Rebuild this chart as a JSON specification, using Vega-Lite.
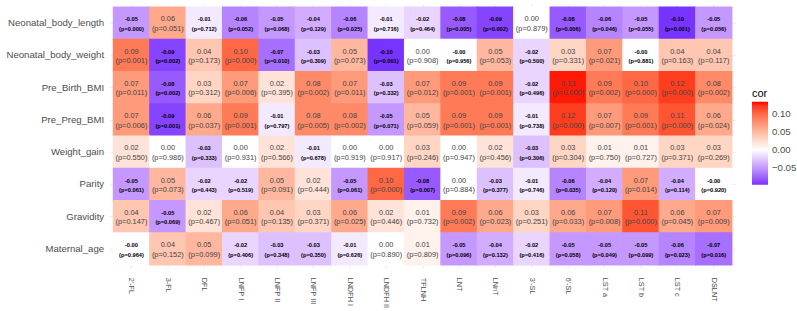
{
  "$schema": "https://vega.github.io/schema/vega-lite/v6.json",
  "width": 626,
  "height": 264.4,
  "autosize": {"type": "none"},
  "padding": {"left": 109.6, "top": 3.8, "right": 61.4, "bottom": 42.8},
  "background": "white",
  "config": {
    "font": "Liberation Sans",
    "view": {"stroke": null},
    "axis": {
      "domain": false,
      "ticks": false,
      "grid": true,
      "gridColor": "#ebebeb",
      "gridWidth": 1,
      "zindex": 0,
      "labelFont": "Liberation Sans",
      "labelFontSize": 9.6,
      "labelColor": "#4d4d4d",
      "title": null
    }
  },
  "datasets": {
    "cors": [
      {"trait": "Neonatal_body_length", "hmo": "2'-FL", "r": -0.05, "p": 0.000},
      {"trait": "Neonatal_body_length", "hmo": "3-FL", "r": 0.06, "p": 0.051},
      {"trait": "Neonatal_body_length", "hmo": "DFL", "r": -0.01, "p": 0.712},
      {"trait": "Neonatal_body_length", "hmo": "LNFP I", "r": -0.06, "p": 0.052},
      {"trait": "Neonatal_body_length", "hmo": "LNFP II", "r": -0.05, "p": 0.068},
      {"trait": "Neonatal_body_length", "hmo": "LNFP III", "r": -0.04, "p": 0.129},
      {"trait": "Neonatal_body_length", "hmo": "LNDFH I", "r": -0.06, "p": 0.025},
      {"trait": "Neonatal_body_length", "hmo": "LNDFH II", "r": -0.01, "p": 0.716},
      {"trait": "Neonatal_body_length", "hmo": "TFLNH", "r": -0.02, "p": 0.464},
      {"trait": "Neonatal_body_length", "hmo": "LNT", "r": -0.08, "p": 0.005},
      {"trait": "Neonatal_body_length", "hmo": "LNnT", "r": -0.09, "p": 0.002},
      {"trait": "Neonatal_body_length", "hmo": "3'-SL", "r": 0.00, "p": 0.879},
      {"trait": "Neonatal_body_length", "hmo": "6'-SL", "r": -0.08, "p": 0.006},
      {"trait": "Neonatal_body_length", "hmo": "LST a", "r": -0.06, "p": 0.046},
      {"trait": "Neonatal_body_length", "hmo": "LST b", "r": -0.05, "p": 0.055},
      {"trait": "Neonatal_body_length", "hmo": "LST c", "r": -0.10, "p": 0.001},
      {"trait": "Neonatal_body_length", "hmo": "DSLNT", "r": -0.05, "p": 0.056},

      {"trait": "Neonatal_body_weight", "hmo": "2'-FL", "r": 0.09, "p": 0.001},
      {"trait": "Neonatal_body_weight", "hmo": "3-FL", "r": -0.09, "p": 0.002},
      {"trait": "Neonatal_body_weight", "hmo": "DFL", "r": 0.04, "p": 0.173},
      {"trait": "Neonatal_body_weight", "hmo": "LNFP I", "r": 0.10, "p": 0.000},
      {"trait": "Neonatal_body_weight", "hmo": "LNFP II", "r": -0.07, "p": 0.010},
      {"trait": "Neonatal_body_weight", "hmo": "LNFP III", "r": -0.03, "p": 0.309},
      {"trait": "Neonatal_body_weight", "hmo": "LNDFH I", "r": 0.05, "p": 0.073},
      {"trait": "Neonatal_body_weight", "hmo": "LNDFH II", "r": -0.10, "p": 0.001},
      {"trait": "Neonatal_body_weight", "hmo": "TFLNH", "r": 0.00, "p": 0.908},
      {"trait": "Neonatal_body_weight", "hmo": "LNT", "r": -0.001, "p": 0.956},
      {"trait": "Neonatal_body_weight", "hmo": "LNnT", "r": 0.05, "p": 0.053},
      {"trait": "Neonatal_body_weight", "hmo": "3'-SL", "r": -0.02, "p": 0.500},
      {"trait": "Neonatal_body_weight", "hmo": "6'-SL", "r": 0.03, "p": 0.331},
      {"trait": "Neonatal_body_weight", "hmo": "LST a", "r": 0.07, "p": 0.021},
      {"trait": "Neonatal_body_weight", "hmo": "LST b", "r": -0.001, "p": 0.881},
      {"trait": "Neonatal_body_weight", "hmo": "LST c", "r": 0.04, "p": 0.163},
      {"trait": "Neonatal_body_weight", "hmo": "DSLNT", "r": 0.04, "p": 0.117},

      {"trait": "Pre_Birth_BMI", "hmo": "2'-FL", "r": 0.07, "p": 0.011},
      {"trait": "Pre_Birth_BMI", "hmo": "3-FL", "r": -0.08, "p": 0.002},
      {"trait": "Pre_Birth_BMI", "hmo": "DFL", "r": 0.03, "p": 0.312},
      {"trait": "Pre_Birth_BMI", "hmo": "LNFP I", "r": 0.07, "p": 0.006},
      {"trait": "Pre_Birth_BMI", "hmo": "LNFP II", "r": 0.02, "p": 0.395},
      {"trait": "Pre_Birth_BMI", "hmo": "LNFP III", "r": 0.08, "p": 0.002},
      {"trait": "Pre_Birth_BMI", "hmo": "LNDFH I", "r": 0.07, "p": 0.011},
      {"trait": "Pre_Birth_BMI", "hmo": "LNDFH II", "r": -0.03, "p": 0.332},
      {"trait": "Pre_Birth_BMI", "hmo": "TFLNH", "r": 0.07, "p": 0.012},
      {"trait": "Pre_Birth_BMI", "hmo": "LNT", "r": 0.09, "p": 0.001},
      {"trait": "Pre_Birth_BMI", "hmo": "LNnT", "r": 0.09, "p": 0.001},
      {"trait": "Pre_Birth_BMI", "hmo": "3'-SL", "r": -0.02, "p": 0.496},
      {"trait": "Pre_Birth_BMI", "hmo": "6'-SL", "r": 0.13, "p": 0.000},
      {"trait": "Pre_Birth_BMI", "hmo": "LST a", "r": 0.09, "p": 0.002},
      {"trait": "Pre_Birth_BMI", "hmo": "LST b", "r": 0.10, "p": 0.000},
      {"trait": "Pre_Birth_BMI", "hmo": "LST c", "r": 0.12, "p": 0.000},
      {"trait": "Pre_Birth_BMI", "hmo": "DSLNT", "r": 0.08, "p": 0.002},

      {"trait": "Pre_Preg_BMI", "hmo": "2'-FL", "r": 0.07, "p": 0.006},
      {"trait": "Pre_Preg_BMI", "hmo": "3-FL", "r": -0.09, "p": 0.001},
      {"trait": "Pre_Preg_BMI", "hmo": "DFL", "r": 0.06, "p": 0.037},
      {"trait": "Pre_Preg_BMI", "hmo": "LNFP I", "r": 0.09, "p": 0.001},
      {"trait": "Pre_Preg_BMI", "hmo": "LNFP II", "r": -0.01, "p": 0.797},
      {"trait": "Pre_Preg_BMI", "hmo": "LNFP III", "r": 0.08, "p": 0.005},
      {"trait": "Pre_Preg_BMI", "hmo": "LNDFH I", "r": 0.08, "p": 0.002},
      {"trait": "Pre_Preg_BMI", "hmo": "LNDFH II", "r": -0.05, "p": 0.071},
      {"trait": "Pre_Preg_BMI", "hmo": "TFLNH", "r": 0.05, "p": 0.059},
      {"trait": "Pre_Preg_BMI", "hmo": "LNT", "r": 0.09, "p": 0.001},
      {"trait": "Pre_Preg_BMI", "hmo": "LNnT", "r": 0.09, "p": 0.001},
      {"trait": "Pre_Preg_BMI", "hmo": "3'-SL", "r": -0.01, "p": 0.738},
      {"trait": "Pre_Preg_BMI", "hmo": "6'-SL", "r": 0.12, "p": 0.000},
      {"trait": "Pre_Preg_BMI", "hmo": "LST a", "r": 0.07, "p": 0.007},
      {"trait": "Pre_Preg_BMI", "hmo": "LST b", "r": 0.09, "p": 0.001},
      {"trait": "Pre_Preg_BMI", "hmo": "LST c", "r": 0.11, "p": 0.000},
      {"trait": "Pre_Preg_BMI", "hmo": "DSLNT", "r": 0.06, "p": 0.024},

      {"trait": "Weight_gain", "hmo": "2'-FL", "r": 0.02, "p": 0.550},
      {"trait": "Weight_gain", "hmo": "3-FL", "r": 0.00, "p": 0.986},
      {"trait": "Weight_gain", "hmo": "DFL", "r": -0.03, "p": 0.333},
      {"trait": "Weight_gain", "hmo": "LNFP I", "r": 0.00, "p": 0.931},
      {"trait": "Weight_gain", "hmo": "LNFP II", "r": 0.02, "p": 0.566},
      {"trait": "Weight_gain", "hmo": "LNFP III", "r": -0.01, "p": 0.678},
      {"trait": "Weight_gain", "hmo": "LNDFH I", "r": 0.00, "p": 0.919},
      {"trait": "Weight_gain", "hmo": "LNDFH II", "r": 0.00, "p": 0.917},
      {"trait": "Weight_gain", "hmo": "TFLNH", "r": 0.03, "p": 0.246},
      {"trait": "Weight_gain", "hmo": "LNT", "r": 0.00, "p": 0.947},
      {"trait": "Weight_gain", "hmo": "LNnT", "r": 0.02, "p": 0.456},
      {"trait": "Weight_gain", "hmo": "3'-SL", "r": -0.03, "p": 0.306},
      {"trait": "Weight_gain", "hmo": "6'-SL", "r": 0.03, "p": 0.304},
      {"trait": "Weight_gain", "hmo": "LST a", "r": 0.01, "p": 0.750},
      {"trait": "Weight_gain", "hmo": "LST b", "r": 0.01, "p": 0.727},
      {"trait": "Weight_gain", "hmo": "LST c", "r": 0.03, "p": 0.371},
      {"trait": "Weight_gain", "hmo": "DSLNT", "r": 0.03, "p": 0.269},

      {"trait": "Parity", "hmo": "2'-FL", "r": -0.05, "p": 0.061},
      {"trait": "Parity", "hmo": "3-FL", "r": 0.05, "p": 0.073},
      {"trait": "Parity", "hmo": "DFL", "r": -0.02, "p": 0.443},
      {"trait": "Parity", "hmo": "LNFP I", "r": -0.02, "p": 0.519},
      {"trait": "Parity", "hmo": "LNFP II", "r": 0.05, "p": 0.091},
      {"trait": "Parity", "hmo": "LNFP III", "r": 0.02, "p": 0.444},
      {"trait": "Parity", "hmo": "LNDFH I", "r": -0.05, "p": 0.061},
      {"trait": "Parity", "hmo": "LNDFH II", "r": 0.10, "p": 0.000},
      {"trait": "Parity", "hmo": "TFLNH", "r": -0.08, "p": 0.007},
      {"trait": "Parity", "hmo": "LNT", "r": 0.00, "p": 0.884},
      {"trait": "Parity", "hmo": "LNnT", "r": -0.03, "p": 0.377},
      {"trait": "Parity", "hmo": "3'-SL", "r": -0.01, "p": 0.746},
      {"trait": "Parity", "hmo": "6'-SL", "r": -0.06, "p": 0.035},
      {"trait": "Parity", "hmo": "LST a", "r": -0.04, "p": 0.120},
      {"trait": "Parity", "hmo": "LST b", "r": 0.07, "p": 0.014},
      {"trait": "Parity", "hmo": "LST c", "r": -0.04, "p": 0.114},
      {"trait": "Parity", "hmo": "DSLNT", "r": -0.001, "p": 0.920},

      {"trait": "Gravidity", "hmo": "2'-FL", "r": 0.04, "p": 0.147},
      {"trait": "Gravidity", "hmo": "3-FL", "r": -0.05, "p": 0.069},
      {"trait": "Gravidity", "hmo": "DFL", "r": 0.02, "p": 0.467},
      {"trait": "Gravidity", "hmo": "LNFP I", "r": 0.06, "p": 0.051},
      {"trait": "Gravidity", "hmo": "LNFP II", "r": 0.04, "p": 0.135},
      {"trait": "Gravidity", "hmo": "LNFP III", "r": 0.03, "p": 0.371},
      {"trait": "Gravidity", "hmo": "LNDFH I", "r": 0.06, "p": 0.025},
      {"trait": "Gravidity", "hmo": "LNDFH II", "r": 0.02, "p": 0.446},
      {"trait": "Gravidity", "hmo": "TFLNH", "r": 0.01, "p": 0.732},
      {"trait": "Gravidity", "hmo": "LNT", "r": 0.09, "p": 0.002},
      {"trait": "Gravidity", "hmo": "LNnT", "r": 0.06, "p": 0.023},
      {"trait": "Gravidity", "hmo": "3'-SL", "r": 0.03, "p": 0.251},
      {"trait": "Gravidity", "hmo": "6'-SL", "r": 0.06, "p": 0.033},
      {"trait": "Gravidity", "hmo": "LST a", "r": 0.07, "p": 0.008},
      {"trait": "Gravidity", "hmo": "LST b", "r": 0.11, "p": 0.000},
      {"trait": "Gravidity", "hmo": "LST c", "r": 0.06, "p": 0.045},
      {"trait": "Gravidity", "hmo": "DSLNT", "r": 0.07, "p": 0.009},

      {"trait": "Maternal_age", "hmo": "2'-FL", "r": -0.001, "p": 0.964},
      {"trait": "Maternal_age", "hmo": "3-FL", "r": 0.04, "p": 0.152},
      {"trait": "Maternal_age", "hmo": "DFL", "r": 0.05, "p": 0.099},
      {"trait": "Maternal_age", "hmo": "LNFP I", "r": -0.02, "p": 0.406},
      {"trait": "Maternal_age", "hmo": "LNFP II", "r": -0.03, "p": 0.348},
      {"trait": "Maternal_age", "hmo": "LNFP III", "r": -0.03, "p": 0.350},
      {"trait": "Maternal_age", "hmo": "LNDFH I", "r": -0.01, "p": 0.626},
      {"trait": "Maternal_age", "hmo": "LNDFH II", "r": 0.00, "p": 0.890},
      {"trait": "Maternal_age", "hmo": "TFLNH", "r": 0.01, "p": 0.809},
      {"trait": "Maternal_age", "hmo": "LNT", "r": -0.05, "p": 0.096},
      {"trait": "Maternal_age", "hmo": "LNnT", "r": -0.04, "p": 0.132},
      {"trait": "Maternal_age", "hmo": "3'-SL", "r": -0.02, "p": 0.416},
      {"trait": "Maternal_age", "hmo": "6'-SL", "r": -0.05, "p": 0.058},
      {"trait": "Maternal_age", "hmo": "LST a", "r": -0.05, "p": 0.049},
      {"trait": "Maternal_age", "hmo": "LST b", "r": -0.05, "p": 0.099},
      {"trait": "Maternal_age", "hmo": "LST c", "r": -0.06, "p": 0.023},
      {"trait": "Maternal_age", "hmo": "DSLNT", "r": -0.07, "p": 0.016}
    ]
  },
  "data": {"name": "cors"},
  "transform": [
    {"calculate": "(datum.r < 0 ? '-' : '') + format(abs(datum.r), '.2f')", "as": "rLabel"},
    {"calculate": "'(p=' + format(datum.p, '.3f') + ')'", "as": "pLabel"}
  ],
  "encoding": {
    "x": {
      "field": "hmo",
      "type": "nominal",
      "sort": ["2'-FL", "3-FL", "DFL", "LNFP I", "LNFP II", "LNFP III", "LNDFH I", "LNDFH II", "TFLNH", "LNT", "LNnT", "3'-SL", "6'-SL", "LST a", "LST b", "LST c", "DSLNT"],
      "scale": {"paddingInner": 0, "paddingOuter": 0.1},
      "axis": {"labelAngle": 90, "labelPadding": 9, "labelFontSize": 7.3}
    },
    "y": {
      "field": "trait",
      "type": "nominal",
      "sort": ["Neonatal_body_length", "Neonatal_body_weight", "Pre_Birth_BMI", "Pre_Preg_BMI", "Weight_gain", "Parity", "Gravidity", "Maternal_age"],
      "scale": {"paddingInner": 0, "paddingOuter": 0.1},
      "axis": {"labelPadding": 6}
    }
  },
  "layer": [
    {
      "mark": {"type": "rect", "opacity": 1, "width": {"band": 1.025}, "height": {"band": 1.03}},
      "encoding": {
        "color": {
          "field": "r",
          "type": "quantitative",
          "title": "cor",
          "scale": {
            "domain": [-0.097, 0.133],
            "domainMid": 0,
            "range": ["#7733ff", "#ffffff", "#ff0000"],
            "interpolate": "lab",
            "clamp": true
          },
          "legend": {
            "type": "gradient",
            "orient": "none",
            "legendX": 642.4,
            "legendY": 84,
            "direction": "vertical",
            "values": [-0.05, 0, 0.05, 0.1],
            "format": ".2f",
            "gradientLength": 83,
            "gradientThickness": 16,
            "gradientStrokeWidth": 0,
            "padding": 0,
            "titleFontSize": 11,
            "titleFontWeight": "normal",
            "titleColor": "#000000",
            "titlePadding": 3,
            "labelFontSize": 9.6,
            "labelColor": "#4d4d4d",
            "labelOffset": 4
          }
        }
      }
    },
    {
      "transform": [{"filter": "datum.r >= 0"}],
      "mark": {"type": "text", "fontSize": 7.4, "color": "#444444", "baseline": "middle", "dy": -3.8},
      "encoding": {"text": {"field": "rLabel"}}
    },
    {
      "transform": [{"filter": "datum.r >= 0"}],
      "mark": {"type": "text", "fontSize": 7.4, "color": "#444444", "baseline": "middle", "dy": 5.8},
      "encoding": {"text": {"field": "pLabel"}}
    },
    {
      "transform": [{"filter": "datum.r < 0"}],
      "mark": {"type": "text", "fontSize": 5.7, "fontWeight": "bold", "color": "#000000", "baseline": "middle", "dy": -3.8},
      "encoding": {"text": {"field": "rLabel"}}
    },
    {
      "transform": [{"filter": "datum.r < 0"}],
      "mark": {"type": "text", "fontSize": 5.7, "fontWeight": "bold", "color": "#000000", "baseline": "middle", "dy": 5.8},
      "encoding": {"text": {"field": "pLabel"}}
    }
  ]
}
